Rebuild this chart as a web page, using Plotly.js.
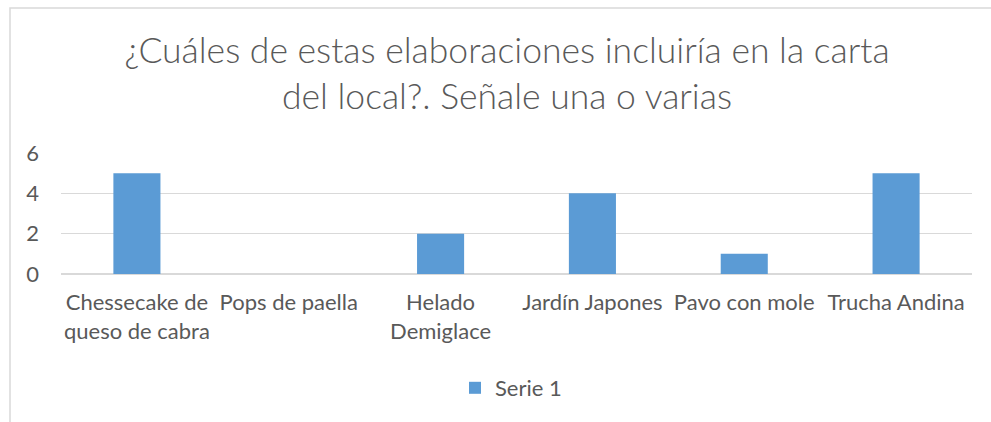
<!DOCTYPE html>
<html><head><meta charset="utf-8">
<script src="https://cdn.plot.ly/plotly-3.0.1.min.js"></script>
<style>html,body{margin:0;padding:0;background:#fff;}#chart{width:991px;height:422px;}</style>
</head><body><div id="chart"></div>
<script>
const categories = ["Chessecake de<br>queso de cabra", "Pops de paella", "Helado<br>Demiglace", "Jardín Japones", "Pavo con mole", "Trucha Andina"];
const values = [5, 0, 2, 4, 1, 5];
const seriesName = "Serie 1";
const titleText = "¿Cuáles de estas elaboraciones incluiría en la carta<br>del local?. Señale una o varias";
const yTicks = [0, 2, 4, 6];

const font = "Lato, 'Open Sans', sans-serif";
const grey = "#595959";

Plotly.newPlot("chart", [{
  type: "bar", x: categories, y: values, name: seriesName,
  marker: {color: "#5B9BD5"}, showlegend: true
}], {
  width: 991, height: 422,
  margin: {l: 61, r: 19, t: 153, b: 148},
  paper_bgcolor: "#fff", plot_bgcolor: "#fff",
  font: {family: font, color: grey, size: 22},
  title: {text: titleText, font: {family: font, size: 35.5, color: grey, weight: 300}, x: 507/991, xref: "container", xanchor: "center", y: 1 - 63/422, yanchor: "middle", yref: "container"},
  bargap: 0.69,
  xaxis: {showgrid: false, showline: false, zeroline: false, ticks: "", ticklabelstandoff: 13, tickfont: {size: 22, color: grey}, fixedrange: true},
  yaxis: {range: [0, 6], tickvals: yTicks, showgrid: true, gridcolor: "#d9d9d9", gridwidth: 1.5, zeroline: true, zerolinecolor: "#d9d9d9", zerolinewidth: 1.5, showline: false, ticks: "", ticklabelstandoff: 21, tickfont: {size: 22, color: grey}},
  legend: {orientation: "h", x: 511/991, xref: "container", xanchor: "center", y: 1 - 388/422, yanchor: "middle", yref: "container", font: {size: 22, color: grey}, itemwidth: 30},
  shapes: [{type: "rect", xref: "paper", yref: "paper", x0: (10-61)/911, x1: 1.2, y0: -3, y1: (274-8)/121, line: {color: "#d9d9d9", width: 1.5}, fillcolor: "rgba(0,0,0,0)"}]
}, {staticPlot: true});
</script></body></html>
